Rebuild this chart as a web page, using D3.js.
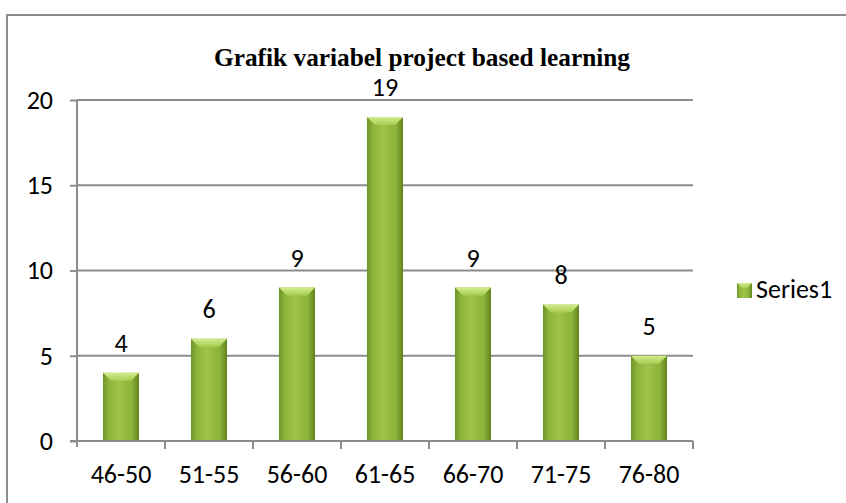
<!DOCTYPE html>
<html>
<head>
<meta charset="utf-8">
<script src="https://cdn.jsdelivr.net/npm/d3@7"></script>
<style>
  body { margin: 0; background: #fff; }
  svg { display: block; }
</style>
</head>
<body>
<svg id="chart" width="846" height="503"></svg>
<script>
// data
var categories = ["46-50", "51-55", "56-60", "61-65", "66-70", "71-75", "76-80"];
var values = [4, 6, 9, 19, 9, 8, 5];
var yTicks = [0, 5, 10, 15, 20];
var seriesName = "Series1";
var title = "Grafik variabel project based learning";

var svg = d3.select("#chart");
var labelFont = "Carlito, Calibri, Lato, sans-serif";

var plot = {left: 77, right: 693, top: 100, bottom: 441};

var x = d3.scaleBand()
    .domain(categories)
    .range([plot.left, plot.right])
    .paddingInner(0.59)
    .paddingOuter(0.295);
var xTick = d3.scaleBand().domain(categories).range([plot.left, plot.right]);
var y = d3.scaleLinear().domain([0, 20]).range([plot.bottom, plot.top]);

// gradients for the bevelled bars
var defs = svg.append("defs");
var g1 = defs.append("linearGradient").attr("id", "barGrad").attr("x1", "0").attr("x2", "1").attr("y1", "0").attr("y2", "0");
g1.append("stop").attr("offset", "0%").attr("stop-color", "#6e9528");
g1.append("stop").attr("offset", "18%").attr("stop-color", "#8fb53c");
g1.append("stop").attr("offset", "45%").attr("stop-color", "#9dc24a");
g1.append("stop").attr("offset", "80%").attr("stop-color", "#8cb23a");
g1.append("stop").attr("offset", "100%").attr("stop-color", "#5f8422");
var g2 = defs.append("linearGradient").attr("id", "capGrad").attr("x1", "0").attr("x2", "0").attr("y1", "0").attr("y2", "1");
g2.append("stop").attr("offset", "0%").attr("stop-color", "#d4ec8e");
g2.append("stop").attr("offset", "100%").attr("stop-color", "#a6cc50");

// outer frame
svg.append("rect")
    .attr("x", 7).attr("y", 15)
    .attr("width", 860).attr("height", 500)
    .attr("fill", "#fff")
    .attr("stroke", "#8c8c8c").attr("stroke-width", 2);

// title
svg.append("text")
    .attr("x", 422).attr("y", 66)
    .attr("text-anchor", "middle")
    .attr("font-family", "'Liberation Serif', 'Times New Roman', serif")
    .attr("font-weight", "bold")
    .attr("font-size", "26px")
    .attr("textLength", 416)
    .attr("lengthAdjust", "spacingAndGlyphs")
    .attr("fill", "#000")
    .text(title);

// gridlines
svg.append("g").selectAll("line")
    .data(yTicks.filter(function(d){ return d > 0; }))
    .enter()
    .append("line")
    .attr("x1", plot.left).attr("x2", plot.right)
    .attr("y1", function(d){ return y(d); })
    .attr("y2", function(d){ return y(d); })
    .attr("stroke", "#8c8c8c").attr("stroke-width", 2);

// y axis
var yAxis = svg.append("g")
    .attr("transform", "translate(" + plot.left + ",0)")
    .call(d3.axisLeft(y).tickValues(yTicks).tickSize(7).tickPadding(17));
yAxis.select(".domain").attr("stroke", "#8c8c8c").attr("stroke-width", 2)
    .attr("d", "M0," + plot.top + "V" + (plot.bottom + 6));
yAxis.selectAll(".tick line").attr("stroke", "#8c8c8c").attr("stroke-width", 2);
yAxis.selectAll("text")
    .attr("font-family", labelFont).attr("font-size", "26px").attr("fill", "#000");

// bars
var bars = svg.append("g");
bars.selectAll("rect.bar")
    .data(values)
    .enter()
    .append("rect")
    .attr("class", "bar")
    .attr("x", function(d, i){ return x(categories[i]); })
    .attr("y", function(d){ return y(d); })
    .attr("width", x.bandwidth())
    .attr("height", function(d){ return y(0) - y(d); })
    .attr("fill", "url(#barGrad)");
bars.selectAll("path.cap")
    .data(values)
    .enter()
    .append("path")
    .attr("class", "cap")
    .attr("d", function(d, i){
        var x0 = x(categories[i]), w = x.bandwidth(), t = y(d);
        return "M" + x0 + "," + t + "H" + (x0 + w) + "L" + (x0 + w - 8) + "," + (t + 8) + "H" + (x0 + 8) + "Z";
    })
    .attr("fill", "url(#capGrad)");

// x axis
var xAxis = svg.append("g")
    .attr("transform", "translate(0," + plot.bottom + ")")
    .call(d3.axisBottom(xTick).tickSize(0).tickPadding(24));
xAxis.select(".domain").remove();
xAxis.append("line")
    .attr("x1", plot.left - 7).attr("x2", plot.right)
    .attr("stroke", "#8c8c8c").attr("stroke-width", 2);
xAxis.selectAll("line.sep")
    .data(categories)
    .enter()
    .append("line")
    .attr("class", "sep")
    .attr("x1", function(d){ return xTick(d) + xTick.bandwidth(); })
    .attr("x2", function(d){ return xTick(d) + xTick.bandwidth(); })
    .attr("y1", 0).attr("y2", 8)
    .attr("stroke", "#8c8c8c").attr("stroke-width", 2);
xAxis.selectAll(".tick text")
    .attr("font-family", labelFont).attr("font-size", "26px").attr("fill", "#000");

// data labels
svg.append("g").selectAll("text")
    .data(values)
    .enter()
    .append("text")
    .attr("x", function(d, i){ return x(categories[i]) + x.bandwidth() / 2; })
    .attr("y", function(d){ return y(d) - 21; })
    .attr("text-anchor", "middle")
    .attr("font-family", labelFont).attr("font-size", "26px").attr("fill", "#000")
    .text(function(d){ return d; });

// legend
var legend = svg.append("g").attr("transform", "translate(737,283)");
legend.append("rect").attr("width", 15).attr("height", 15).attr("fill", "url(#barGrad)");
legend.append("path").attr("d", "M0,0H15L10,5H5Z").attr("fill", "url(#capGrad)");
legend.append("text")
    .attr("x", 19).attr("y", 15)
    .attr("font-family", labelFont).attr("font-size", "26px").attr("fill", "#000")
    .text(seriesName);
</script>
</body>
</html>
